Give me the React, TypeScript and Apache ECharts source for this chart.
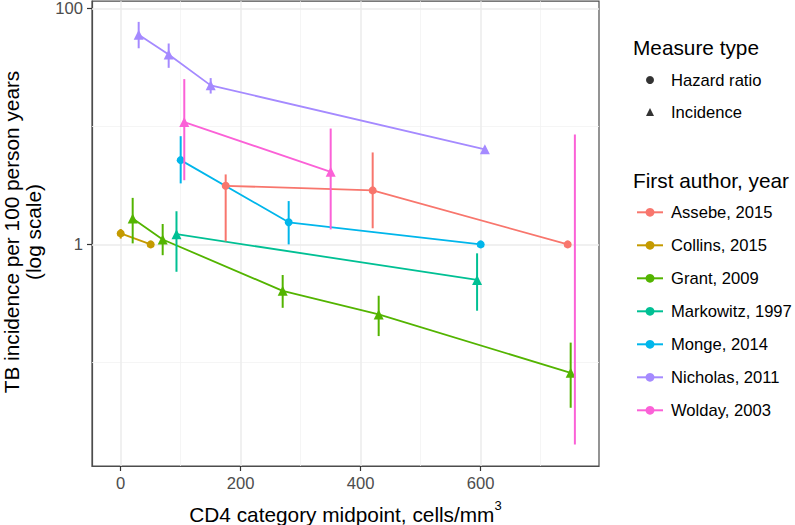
import React, { useEffect, useRef } from 'react';
import * as echarts from 'echarts';

const authors = ['Assebe, 2015', 'Collins, 2015', 'Grant, 2009', 'Markowitz, 1997', 'Monge, 2014', 'Nicholas, 2011', 'Wolday, 2003'];
const measureTypes = ['Hazard ratio', 'Incidence'];
const authorMeasure = ['Hazard ratio', 'Hazard ratio', 'Incidence', 'Incidence', 'Hazard ratio', 'Incidence', 'Incidence'];
const colors = ['#F8766D', '#C49A00', '#53B400', '#00C094', '#00B6EB', '#A58AFF', '#FB61D7'];

// CD4 category midpoints (cells/mm3)
const cd4Midpoints: number[][] = [
  [175, 420, 745],
  [0, 50],
  [20, 70, 270, 430, 750],
  [93, 594],
  [100, 280, 600],
  [30, 80, 150, 607],
  [106, 350, 757],
];
// point estimates (null = not shown)
const estimates: (number | null)[][] = [
  [3.14, 2.87, 1.0],
  [1.24, 1.0],
  [1.66, 1.1, 0.404, 0.255, 0.0816],
  [1.22, 0.5],
  [5.18, 1.54, 1.0],
  [60, 40.7, 22.3, 6.4],
  [10.9, 4.12, null],
];
const lowerCI: (number | null)[][] = [
  [1.06, 1.37, null],
  [1.12, null],
  [1.02, 0.81, 0.29, 0.167, 0.0412],
  [0.586, 0.274],
  [3.29, 1.0, null],
  [46, 31.4, 19, 6.0],
  [3.5, 1.34, 0.0201],
];
const upperCI: (number | null)[][] = [
  [3.92, 6.02, null],
  [1.35, null],
  [2.48, 1.49, 0.55, 0.367, 0.147],
  [1.91, 0.84],
  [8.27, 2.33, null],
  [77, 50.5, 25.7, 6.8],
  [25.2, 9.6, 8.55],
];

const xTicks = [0, 200, 400, 600];
const xMinorGrid = [100, 300, 500, 700];
const yTicks = [1, 100];
const yMinorGrid = [0.1, 10];

const FONT = '"Liberation Sans", Arial, Helvetica, sans-serif';

export default function App() {
  const ref = useRef<HTMLDivElement>(null);
  useEffect(() => {
    if (!ref.current) return;
    const chart = echarts.init(ref.current, undefined, { renderer: 'svg' });

    const series: any[] = [];

    // gridlines
    series.push({
      type: 'line',
      name: '__grid',
      data: [],
      z: 1,
      silent: true,
      markLine: {
        silent: true,
        z: 1,
        symbol: ['none', 'none'],
        label: { show: false },
        animation: false,
        data: [
          ...xMinorGrid.map((v) => ({ xAxis: v, lineStyle: { color: '#f2f2f2', width: 0.8, type: 'solid' } })),
          ...yMinorGrid.map((v) => ({ yAxis: v, lineStyle: { color: '#f2f2f2', width: 0.8, type: 'solid' } })),
          ...xTicks.map((v) => ({ xAxis: v, lineStyle: { color: '#ebebeb', width: 1.5, type: 'solid' } })),
          ...yTicks.map((v) => ({ yAxis: v, lineStyle: { color: '#ebebeb', width: 1.5, type: 'solid' } })),
        ],
      },
    });

    authors.forEach((name, i) => {
      const color = colors[i];
      const isTri = authorMeasure[i] === 'Incidence';
      const pts: any[] = [];
      cd4Midpoints[i].forEach((x, j) => {
        const y = estimates[i][j];
        if (y !== null) pts.push({ value: [x, y], symbol: isTri ? 'triangle' : 'circle', symbolSize: isTri ? 10 : 8 });
      });
      series.push({
        type: 'line',
        name,
        data: pts,
        symbol: 'circle',
        symbolSize: 8,
        showAllSymbol: true,
        color,
        itemStyle: { color },
        lineStyle: { color, width: 1.8 },
        z: 3,
      });
      const bars: number[][] = [];
      cd4Midpoints[i].forEach((x, j) => {
        const lo = lowerCI[i][j];
        const hi = upperCI[i][j];
        if (lo !== null && hi !== null) bars.push([x, lo, hi]);
      });
      series.push({
        type: 'custom',
        name: name + ' CI',
        data: bars,
        encode: { x: 0, y: [1, 2] },
        z: 4,
        renderItem: (params: any, api: any) => {
          const x = api.value(0);
          const p1 = api.coord([x, api.value(1)]);
          const p2 = api.coord([x, api.value(2)]);
          return {
            type: 'line',
            shape: { x1: p1[0], y1: p1[1], x2: p2[0], y2: p2[1] },
            style: { stroke: color, lineWidth: 2 },
          };
        },
      });
    });

    measureTypes.forEach((m) => {
      series.push({
        type: 'scatter',
        name: m,
        data: [],
        symbol: m === 'Incidence' ? 'triangle' : 'circle',
        itemStyle: { color: '#000' },
      });
    });

    const option: any = {
      animation: false,
      backgroundColor: '#ffffff',
      textStyle: { fontFamily: FONT },
      grid: {
        left: 92,
        top: 1,
        width: 507,
        height: 465,
        show: true,
        borderColor: '#4d4d4d',
        borderWidth: 1.2,
        backgroundColor: '#ffffff',
        containLabel: false,
      },
      xAxis: {
        type: 'value',
        min: -47.8,
        max: 797.2,
        axisLine: { show: true, onZero: false, lineStyle: { color: '#4d4d4d', width: 1.2 } },
        axisTick: { show: true, length: 5, lineStyle: { color: '#333333', width: 1.2 }, customValues: xTicks },
        axisLabel: { customValues: xTicks, fontSize: 16.6, color: '#4d4d4d', margin: 9, fontFamily: FONT },
        splitLine: { show: false },
      },
      yAxis: {
        type: 'log',
        logBase: 10,
        min: 0.01322,
        max: 115.3,
        axisLine: { show: true, onZero: false, lineStyle: { color: '#4d4d4d', width: 1.2 } },
        axisTick: { show: true, length: 5, lineStyle: { color: '#333333', width: 1.2 }, customValues: yTicks },
        axisLabel: {
          customValues: yTicks,
          fontSize: 16.6,
          color: '#4d4d4d',
          margin: 9,
          fontFamily: FONT,
          formatter: (v: number) => String(Math.round(v)),
        },
        splitLine: { show: false },
        minorSplitLine: { show: false },
      },
      legend: [
        {
          data: authors,
          orient: 'vertical',
          left: 636,
          top: 202.3,
          padding: 0,
          itemWidth: 26,
          itemHeight: 11,
          itemGap: 13,
          selectedMode: false,
          textStyle: { fontSize: 16.6, color: '#000', lineHeight: 20, fontFamily: FONT, padding: [0, 0, 0, 3] },
        },
        {
          data: [
            { name: 'Hazard ratio', icon: 'circle' },
            { name: 'Incidence', icon: 'triangle' },
          ],
          orient: 'vertical',
          left: 646,
          top: 70,
          padding: 0,
          itemWidth: 8,
          itemHeight: 8,
          itemGap: 12,
          selectedMode: false,
          itemStyle: { color: '#000' },
          textStyle: { fontSize: 16.6, color: '#000', lineHeight: 20, fontFamily: FONT, padding: [0, 0, 0, 12] },
        },
      ],
      graphic: [
        {
          type: 'text',
          x: 633,
          y: 47.7,
          style: { text: 'Measure type', fill: '#000', fontSize: 20.8, fontFamily: FONT, align: 'left', verticalAlign: 'middle' },
        },
        {
          type: 'text',
          x: 633,
          y: 180,
          style: { text: 'First author, year', fill: '#000', fontSize: 20.8, fontFamily: FONT, align: 'left', verticalAlign: 'middle' },
        },
        {
          type: 'text',
          x: 22.5,
          y: 232,
          rotation: Math.PI / 2,
          style: {
            text: 'TB incidence per 100 person years\n(log scale)',
            fill: '#000',
            fontSize: 20.8,
            lineHeight: 22,
            fontFamily: FONT,
            align: 'center',
            verticalAlign: 'middle',
          },
        },
        {
          type: 'text',
          x: 345.5,
          y: 514,
          style: {
            text: 'CD4 category midpoint, cells/mm{sup|3}',
            fill: '#000',
            fontSize: 20.8,
            lineHeight: 30,
            fontFamily: FONT,
            align: 'center',
            verticalAlign: 'middle',
            rich: {
              sup: { fontSize: 13, lineHeight: 13, verticalAlign: 'top', fill: '#000', fontFamily: FONT },
            },
          },
        },
      ],
      series,
    };
    chart.setOption(option);
    return () => chart.dispose();
  }, []);
  return <div ref={ref} style={{ position: 'fixed', left: 0, top: 0, width: 795, height: 525 }} />;
}
